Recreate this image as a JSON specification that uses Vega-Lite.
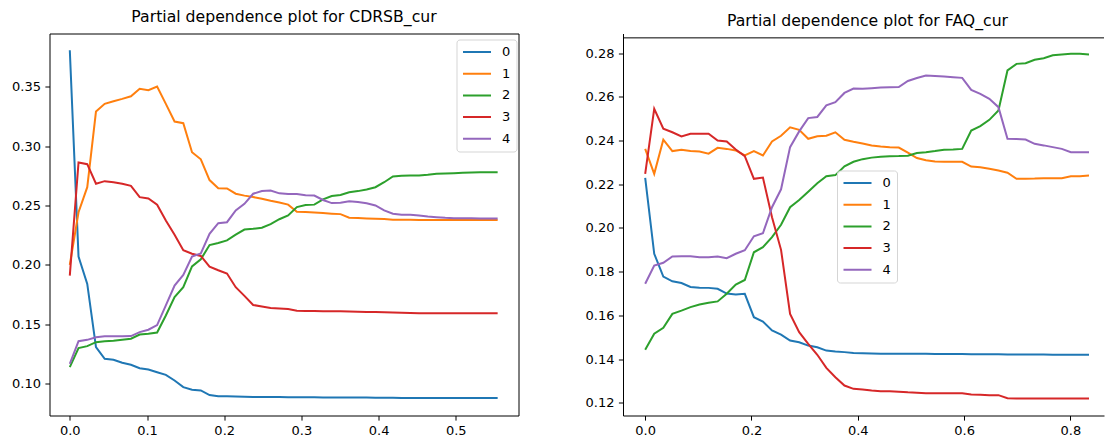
{
"$schema": "https://vega.github.io/schema/vega-lite/v6.json",
"background": "white",
"padding": {"left": 10.5, "top": 8.5, "right": 0, "bottom": 0},
"bounds": "flush",
"spacing": 104.5,
"config": {
 "font": "DejaVu Sans",
 "view": {"stroke": "#000", "strokeWidth": 1},
 "axis": {"domain": false, "grid": false, "tickSize": 4.6, "tickWidth": 1, "tickColor": "#000", "labelPadding": 4.4, "labelFontSize": 13, "labelColor": "#000", "labelFont": "DejaVu Sans", "title": null},
 "title": {"fontSize": 15.7, "font": "DejaVu Sans", "fontWeight": "normal", "color": "#000", "offset": 7.8, "baseline": "alphabetic", "anchor": "middle"},
 "legend": {"symbolType": "stroke", "symbolSize": 784, "symbolStrokeWidth": 2, "labelFontSize": 13, "labelFont": "DejaVu Sans", "labelColor": "#000", "labelOffset": 10, "clipHeight": 14, "rowPadding": 7.7, "padding": 5.5, "fillColor": "rgba(255,255,255,0.8)", "strokeColor": "#d5d5d5", "cornerRadius": 3, "title": null}
},
"datasets": {
"cdr": [
{"x":0,"k":"0","y":0.381},{"x":0.0113,"k":"0","y":0.207},{"x":0.0226,"k":"0","y":0.184},{"x":0.0339,"k":"0","y":0.1306},{"x":0.0452,"k":"0","y":0.1208},{"x":0.0566,"k":"0","y":0.12},{"x":0.0679,"k":"0","y":0.1175},{"x":0.0792,"k":"0","y":0.1158},{"x":0.0905,"k":"0","y":0.1129},{"x":0.1018,"k":"0","y":0.1118},{"x":0.1131,"k":"0","y":0.1095},{"x":0.1244,"k":"0","y":0.1073},{"x":0.1357,"k":"0","y":0.1025},{"x":0.147,"k":"0","y":0.0969},{"x":0.1583,"k":"0","y":0.0947},{"x":0.1697,"k":"0","y":0.0941},{"x":0.181,"k":"0","y":0.0902},{"x":0.1923,"k":"0","y":0.0893},{"x":0.2036,"k":"0","y":0.0892},{"x":0.2149,"k":"0","y":0.0891},{"x":0.2262,"k":"0","y":0.0889},{"x":0.2375,"k":"0","y":0.0887},{"x":0.2488,"k":"0","y":0.0886},{"x":0.2601,"k":"0","y":0.0885},{"x":0.2714,"k":"0","y":0.0885},{"x":0.2828,"k":"0","y":0.0884},{"x":0.2941,"k":"0","y":0.0884},{"x":0.3054,"k":"0","y":0.0883},{"x":0.3167,"k":"0","y":0.0883},{"x":0.328,"k":"0","y":0.0882},{"x":0.3393,"k":"0","y":0.0882},{"x":0.3506,"k":"0","y":0.0882},{"x":0.3619,"k":"0","y":0.0881},{"x":0.3732,"k":"0","y":0.0881},{"x":0.3845,"k":"0","y":0.0881},{"x":0.3959,"k":"0","y":0.088},{"x":0.4072,"k":"0","y":0.088},{"x":0.4185,"k":"0","y":0.0879},{"x":0.4298,"k":"0","y":0.0878},{"x":0.4411,"k":"0","y":0.0878},{"x":0.4524,"k":"0","y":0.0878},{"x":0.4637,"k":"0","y":0.0878},{"x":0.475,"k":"0","y":0.0878},{"x":0.4863,"k":"0","y":0.0878},{"x":0.4976,"k":"0","y":0.0877},{"x":0.509,"k":"0","y":0.0877},{"x":0.5203,"k":"0","y":0.0877},{"x":0.5316,"k":"0","y":0.0877},{"x":0.5429,"k":"0","y":0.0877},{"x":0.5542,"k":"0","y":0.0877},
{"x":0,"k":"1","y":0.2},{"x":0.0113,"k":"1","y":0.2444},{"x":0.0226,"k":"1","y":0.2655},{"x":0.0339,"k":"1","y":0.3293},{"x":0.0452,"k":"1","y":0.3358},{"x":0.0566,"k":"1","y":0.338},{"x":0.0679,"k":"1","y":0.34},{"x":0.0792,"k":"1","y":0.3422},{"x":0.0905,"k":"1","y":0.3485},{"x":0.1018,"k":"1","y":0.3473},{"x":0.1131,"k":"1","y":0.3504},{"x":0.1244,"k":"1","y":0.3358},{"x":0.1357,"k":"1","y":0.3209},{"x":0.147,"k":"1","y":0.3195},{"x":0.1583,"k":"1","y":0.295},{"x":0.1697,"k":"1","y":0.289},{"x":0.181,"k":"1","y":0.2715},{"x":0.1923,"k":"1","y":0.2647},{"x":0.2036,"k":"1","y":0.2644},{"x":0.2149,"k":"1","y":0.26},{"x":0.2262,"k":"1","y":0.2584},{"x":0.2375,"k":"1","y":0.2572},{"x":0.2488,"k":"1","y":0.2557},{"x":0.2601,"k":"1","y":0.254},{"x":0.2714,"k":"1","y":0.2526},{"x":0.2828,"k":"1","y":0.2508},{"x":0.2941,"k":"1","y":0.2447},{"x":0.3054,"k":"1","y":0.2446},{"x":0.3167,"k":"1","y":0.2442},{"x":0.328,"k":"1","y":0.2437},{"x":0.3393,"k":"1","y":0.2432},{"x":0.3506,"k":"1","y":0.2428},{"x":0.3619,"k":"1","y":0.2398},{"x":0.3732,"k":"1","y":0.2395},{"x":0.3845,"k":"1","y":0.2392},{"x":0.3959,"k":"1","y":0.2389},{"x":0.4072,"k":"1","y":0.2386},{"x":0.4185,"k":"1","y":0.2381},{"x":0.4298,"k":"1","y":0.238},{"x":0.4411,"k":"1","y":0.238},{"x":0.4524,"k":"1","y":0.2379},{"x":0.4637,"k":"1","y":0.2378},{"x":0.475,"k":"1","y":0.2378},{"x":0.4863,"k":"1","y":0.2378},{"x":0.4976,"k":"1","y":0.2378},{"x":0.509,"k":"1","y":0.2378},{"x":0.5203,"k":"1","y":0.2378},{"x":0.5316,"k":"1","y":0.2378},{"x":0.5429,"k":"1","y":0.2378},{"x":0.5542,"k":"1","y":0.2378},
{"x":0,"k":"2","y":0.1138},{"x":0.0113,"k":"2","y":0.1298},{"x":0.0226,"k":"2","y":0.1315},{"x":0.0339,"k":"2","y":0.1348},{"x":0.0452,"k":"2","y":0.1357},{"x":0.0566,"k":"2","y":0.136},{"x":0.0679,"k":"2","y":0.1368},{"x":0.0792,"k":"2","y":0.1377},{"x":0.0905,"k":"2","y":0.1413},{"x":0.1018,"k":"2","y":0.1419},{"x":0.1131,"k":"2","y":0.143},{"x":0.1244,"k":"2","y":0.1573},{"x":0.1357,"k":"2","y":0.1728},{"x":0.147,"k":"2","y":0.1812},{"x":0.1583,"k":"2","y":0.1987},{"x":0.1697,"k":"2","y":0.2047},{"x":0.181,"k":"2","y":0.2167},{"x":0.1923,"k":"2","y":0.2185},{"x":0.2036,"k":"2","y":0.2206},{"x":0.2149,"k":"2","y":0.2255},{"x":0.2262,"k":"2","y":0.2298},{"x":0.2375,"k":"2","y":0.2304},{"x":0.2488,"k":"2","y":0.2313},{"x":0.2601,"k":"2","y":0.2344},{"x":0.2714,"k":"2","y":0.2385},{"x":0.2828,"k":"2","y":0.2417},{"x":0.2941,"k":"2","y":0.2487},{"x":0.3054,"k":"2","y":0.2504},{"x":0.3167,"k":"2","y":0.2508},{"x":0.328,"k":"2","y":0.2553},{"x":0.3393,"k":"2","y":0.2581},{"x":0.3506,"k":"2","y":0.259},{"x":0.3619,"k":"2","y":0.2613},{"x":0.3732,"k":"2","y":0.2622},{"x":0.3845,"k":"2","y":0.2636},{"x":0.3959,"k":"2","y":0.2655},{"x":0.4072,"k":"2","y":0.2697},{"x":0.4185,"k":"2","y":0.2745},{"x":0.4298,"k":"2","y":0.2751},{"x":0.4411,"k":"2","y":0.2754},{"x":0.4524,"k":"2","y":0.2754},{"x":0.4637,"k":"2","y":0.2759},{"x":0.475,"k":"2","y":0.2768},{"x":0.4863,"k":"2","y":0.2771},{"x":0.4976,"k":"2","y":0.2773},{"x":0.509,"k":"2","y":0.2776},{"x":0.5203,"k":"2","y":0.2779},{"x":0.5316,"k":"2","y":0.2781},{"x":0.5429,"k":"2","y":0.2782},{"x":0.5542,"k":"2","y":0.2782},
{"x":0,"k":"3","y":0.191},{"x":0.0113,"k":"3","y":0.2863},{"x":0.0226,"k":"3","y":0.2849},{"x":0.0339,"k":"3","y":0.2684},{"x":0.0452,"k":"3","y":0.2706},{"x":0.0566,"k":"3","y":0.2697},{"x":0.0679,"k":"3","y":0.2684},{"x":0.0792,"k":"3","y":0.2667},{"x":0.0905,"k":"3","y":0.2571},{"x":0.1018,"k":"3","y":0.256},{"x":0.1131,"k":"3","y":0.2507},{"x":0.1244,"k":"3","y":0.2374},{"x":0.1357,"k":"3","y":0.2255},{"x":0.147,"k":"3","y":0.2124},{"x":0.1583,"k":"3","y":0.2094},{"x":0.1697,"k":"3","y":0.2075},{"x":0.181,"k":"3","y":0.1985},{"x":0.1923,"k":"3","y":0.1955},{"x":0.2036,"k":"3","y":0.1927},{"x":0.2149,"k":"3","y":0.1812},{"x":0.2262,"k":"3","y":0.1739},{"x":0.2375,"k":"3","y":0.1662},{"x":0.2488,"k":"3","y":0.1649},{"x":0.2601,"k":"3","y":0.1637},{"x":0.2714,"k":"3","y":0.1632},{"x":0.2828,"k":"3","y":0.1627},{"x":0.2941,"k":"3","y":0.1614},{"x":0.3054,"k":"3","y":0.1612},{"x":0.3167,"k":"3","y":0.1611},{"x":0.328,"k":"3","y":0.161},{"x":0.3393,"k":"3","y":0.1609},{"x":0.3506,"k":"3","y":0.1608},{"x":0.3619,"k":"3","y":0.1607},{"x":0.3732,"k":"3","y":0.1605},{"x":0.3845,"k":"3","y":0.1603},{"x":0.3959,"k":"3","y":0.1602},{"x":0.4072,"k":"3","y":0.1601},{"x":0.4185,"k":"3","y":0.1598},{"x":0.4298,"k":"3","y":0.1596},{"x":0.4411,"k":"3","y":0.1595},{"x":0.4524,"k":"3","y":0.1593},{"x":0.4637,"k":"3","y":0.1593},{"x":0.475,"k":"3","y":0.1593},{"x":0.4863,"k":"3","y":0.1593},{"x":0.4976,"k":"3","y":0.1593},{"x":0.509,"k":"3","y":0.1593},{"x":0.5203,"k":"3","y":0.1593},{"x":0.5316,"k":"3","y":0.1593},{"x":0.5429,"k":"3","y":0.1593},{"x":0.5542,"k":"3","y":0.1593},
{"x":0,"k":"4","y":0.1166},{"x":0.0113,"k":"4","y":0.1357},{"x":0.0226,"k":"4","y":0.1368},{"x":0.0339,"k":"4","y":0.139},{"x":0.0452,"k":"4","y":0.1399},{"x":0.0566,"k":"4","y":0.1399},{"x":0.0679,"k":"4","y":0.1399},{"x":0.0792,"k":"4","y":0.14},{"x":0.0905,"k":"4","y":0.1433},{"x":0.1018,"k":"4","y":0.1453},{"x":0.1131,"k":"4","y":0.1492},{"x":0.1244,"k":"4","y":0.1658},{"x":0.1357,"k":"4","y":0.1826},{"x":0.147,"k":"4","y":0.1916},{"x":0.1583,"k":"4","y":0.2071},{"x":0.1697,"k":"4","y":0.2097},{"x":0.181,"k":"4","y":0.2262},{"x":0.1923,"k":"4","y":0.2352},{"x":0.2036,"k":"4","y":0.236},{"x":0.2149,"k":"4","y":0.2459},{"x":0.2262,"k":"4","y":0.2515},{"x":0.2375,"k":"4","y":0.26},{"x":0.2488,"k":"4","y":0.2622},{"x":0.2601,"k":"4","y":0.2627},{"x":0.2714,"k":"4","y":0.2603},{"x":0.2828,"k":"4","y":0.2597},{"x":0.2941,"k":"4","y":0.2597},{"x":0.3054,"k":"4","y":0.2588},{"x":0.3167,"k":"4","y":0.2585},{"x":0.328,"k":"4","y":0.2547},{"x":0.3393,"k":"4","y":0.2521},{"x":0.3506,"k":"4","y":0.2524},{"x":0.3619,"k":"4","y":0.2537},{"x":0.3732,"k":"4","y":0.253},{"x":0.3845,"k":"4","y":0.252},{"x":0.3959,"k":"4","y":0.2501},{"x":0.4072,"k":"4","y":0.2459},{"x":0.4185,"k":"4","y":0.2431},{"x":0.4298,"k":"4","y":0.2422},{"x":0.4411,"k":"4","y":0.2422},{"x":0.4524,"k":"4","y":0.2417},{"x":0.4637,"k":"4","y":0.2408},{"x":0.475,"k":"4","y":0.2402},{"x":0.4863,"k":"4","y":0.2397},{"x":0.4976,"k":"4","y":0.2394},{"x":0.509,"k":"4","y":0.2393},{"x":0.5203,"k":"4","y":0.2393},{"x":0.5316,"k":"4","y":0.2392},{"x":0.5429,"k":"4","y":0.2392},{"x":0.5542,"k":"4","y":0.2392}
],
"faq": [
{"x":0,"k":"0","y":0.2229},{"x":0.017,"k":"0","y":0.1882},{"x":0.0341,"k":"0","y":0.1778},{"x":0.0511,"k":"0","y":0.1756},{"x":0.0682,"k":"0","y":0.1748},{"x":0.0852,"k":"0","y":0.173},{"x":0.1022,"k":"0","y":0.1727},{"x":0.1193,"k":"0","y":0.1726},{"x":0.1363,"k":"0","y":0.1722},{"x":0.1534,"k":"0","y":0.17},{"x":0.1704,"k":"0","y":0.1696},{"x":0.1874,"k":"0","y":0.1699},{"x":0.2045,"k":"0","y":0.1592},{"x":0.2215,"k":"0","y":0.1572},{"x":0.2386,"k":"0","y":0.1531},{"x":0.2556,"k":"0","y":0.1512},{"x":0.2726,"k":"0","y":0.1485},{"x":0.2897,"k":"0","y":0.1477},{"x":0.3067,"k":"0","y":0.1462},{"x":0.3238,"k":"0","y":0.1454},{"x":0.3408,"k":"0","y":0.1439},{"x":0.3578,"k":"0","y":0.1435},{"x":0.3749,"k":"0","y":0.1432},{"x":0.3919,"k":"0","y":0.1428},{"x":0.409,"k":"0","y":0.1427},{"x":0.426,"k":"0","y":0.1426},{"x":0.443,"k":"0","y":0.1425},{"x":0.4601,"k":"0","y":0.1425},{"x":0.4771,"k":"0","y":0.1425},{"x":0.4942,"k":"0","y":0.1424},{"x":0.5112,"k":"0","y":0.1424},{"x":0.5282,"k":"0","y":0.1424},{"x":0.5453,"k":"0","y":0.1423},{"x":0.5623,"k":"0","y":0.1423},{"x":0.5794,"k":"0","y":0.1423},{"x":0.5964,"k":"0","y":0.1423},{"x":0.6134,"k":"0","y":0.1422},{"x":0.6305,"k":"0","y":0.1422},{"x":0.6475,"k":"0","y":0.1422},{"x":0.6646,"k":"0","y":0.1422},{"x":0.6816,"k":"0","y":0.1421},{"x":0.6986,"k":"0","y":0.1421},{"x":0.7157,"k":"0","y":0.1421},{"x":0.7327,"k":"0","y":0.1421},{"x":0.7498,"k":"0","y":0.1421},{"x":0.7668,"k":"0","y":0.142},{"x":0.7838,"k":"0","y":0.142},{"x":0.8009,"k":"0","y":0.142},{"x":0.8179,"k":"0","y":0.142},{"x":0.835,"k":"0","y":0.142},
{"x":0,"k":"1","y":0.2362},{"x":0.017,"k":"1","y":0.2248},{"x":0.0341,"k":"1","y":0.2404},{"x":0.0511,"k":"1","y":0.2352},{"x":0.0682,"k":"1","y":0.2358},{"x":0.0852,"k":"1","y":0.2352},{"x":0.1022,"k":"1","y":0.235},{"x":0.1193,"k":"1","y":0.234},{"x":0.1363,"k":"1","y":0.2367},{"x":0.1534,"k":"1","y":0.2362},{"x":0.1704,"k":"1","y":0.2355},{"x":0.1874,"k":"1","y":0.2332},{"x":0.2045,"k":"1","y":0.2352},{"x":0.2215,"k":"1","y":0.2332},{"x":0.2386,"k":"1","y":0.2396},{"x":0.2556,"k":"1","y":0.2422},{"x":0.2726,"k":"1","y":0.2461},{"x":0.2897,"k":"1","y":0.2449},{"x":0.3067,"k":"1","y":0.2408},{"x":0.3238,"k":"1","y":0.242},{"x":0.3408,"k":"1","y":0.2422},{"x":0.3578,"k":"1","y":0.2438},{"x":0.3749,"k":"1","y":0.2404},{"x":0.3919,"k":"1","y":0.2395},{"x":0.409,"k":"1","y":0.2387},{"x":0.426,"k":"1","y":0.2378},{"x":0.443,"k":"1","y":0.2373},{"x":0.4601,"k":"1","y":0.2369},{"x":0.4771,"k":"1","y":0.2368},{"x":0.4942,"k":"1","y":0.2345},{"x":0.5112,"k":"1","y":0.232},{"x":0.5282,"k":"1","y":0.231},{"x":0.5453,"k":"1","y":0.2304},{"x":0.5623,"k":"1","y":0.2303},{"x":0.5794,"k":"1","y":0.2303},{"x":0.5964,"k":"1","y":0.2303},{"x":0.6134,"k":"1","y":0.2281},{"x":0.6305,"k":"1","y":0.2278},{"x":0.6475,"k":"1","y":0.2271},{"x":0.6646,"k":"1","y":0.2263},{"x":0.6816,"k":"1","y":0.2253},{"x":0.6986,"k":"1","y":0.2225},{"x":0.7157,"k":"1","y":0.2225},{"x":0.7327,"k":"1","y":0.2226},{"x":0.7498,"k":"1","y":0.2228},{"x":0.7668,"k":"1","y":0.2228},{"x":0.7838,"k":"1","y":0.2228},{"x":0.8009,"k":"1","y":0.2237},{"x":0.8179,"k":"1","y":0.2237},{"x":0.835,"k":"1","y":0.224},
{"x":0,"k":"2","y":0.1443},{"x":0.017,"k":"2","y":0.1516},{"x":0.0341,"k":"2","y":0.1543},{"x":0.0511,"k":"2","y":0.1607},{"x":0.0682,"k":"2","y":0.1622},{"x":0.0852,"k":"2","y":0.1638},{"x":0.1022,"k":"2","y":0.165},{"x":0.1193,"k":"2","y":0.1658},{"x":0.1363,"k":"2","y":0.1664},{"x":0.1534,"k":"2","y":0.1699},{"x":0.1704,"k":"2","y":0.1741},{"x":0.1874,"k":"2","y":0.1762},{"x":0.2045,"k":"2","y":0.1889},{"x":0.2215,"k":"2","y":0.1912},{"x":0.2386,"k":"2","y":0.1958},{"x":0.2556,"k":"2","y":0.2015},{"x":0.2726,"k":"2","y":0.2095},{"x":0.2897,"k":"2","y":0.2128},{"x":0.3067,"k":"2","y":0.2166},{"x":0.3238,"k":"2","y":0.2205},{"x":0.3408,"k":"2","y":0.2237},{"x":0.3578,"k":"2","y":0.2242},{"x":0.3749,"k":"2","y":0.2282},{"x":0.3919,"k":"2","y":0.2303},{"x":0.409,"k":"2","y":0.2315},{"x":0.426,"k":"2","y":0.2322},{"x":0.443,"k":"2","y":0.2326},{"x":0.4601,"k":"2","y":0.2328},{"x":0.4771,"k":"2","y":0.2329},{"x":0.4942,"k":"2","y":0.2331},{"x":0.5112,"k":"2","y":0.2343},{"x":0.5282,"k":"2","y":0.2347},{"x":0.5453,"k":"2","y":0.2352},{"x":0.5623,"k":"2","y":0.2358},{"x":0.5794,"k":"2","y":0.2359},{"x":0.5964,"k":"2","y":0.2362},{"x":0.6134,"k":"2","y":0.2446},{"x":0.6305,"k":"2","y":0.2466},{"x":0.6475,"k":"2","y":0.2495},{"x":0.6646,"k":"2","y":0.2538},{"x":0.6816,"k":"2","y":0.2721},{"x":0.6986,"k":"2","y":0.2751},{"x":0.7157,"k":"2","y":0.2754},{"x":0.7327,"k":"2","y":0.277},{"x":0.7498,"k":"2","y":0.2777},{"x":0.7668,"k":"2","y":0.279},{"x":0.7838,"k":"2","y":0.2794},{"x":0.8009,"k":"2","y":0.2797},{"x":0.8179,"k":"2","y":0.2797},{"x":0.835,"k":"2","y":0.2794},
{"x":0,"k":"3","y":0.2248},{"x":0.017,"k":"3","y":0.2545},{"x":0.0341,"k":"3","y":0.2454},{"x":0.0511,"k":"3","y":0.2438},{"x":0.0682,"k":"3","y":0.2419},{"x":0.0852,"k":"3","y":0.2431},{"x":0.1022,"k":"3","y":0.2431},{"x":0.1193,"k":"3","y":0.2431},{"x":0.1363,"k":"3","y":0.24},{"x":0.1534,"k":"3","y":0.2396},{"x":0.1704,"k":"3","y":0.2359},{"x":0.1874,"k":"3","y":0.2329},{"x":0.2045,"k":"3","y":0.2225},{"x":0.2215,"k":"3","y":0.2231},{"x":0.2386,"k":"3","y":0.2049},{"x":0.2556,"k":"3","y":0.19},{"x":0.2726,"k":"3","y":0.1607},{"x":0.2897,"k":"3","y":0.1523},{"x":0.3067,"k":"3","y":0.147},{"x":0.3238,"k":"3","y":0.142},{"x":0.3408,"k":"3","y":0.136},{"x":0.3578,"k":"3","y":0.1317},{"x":0.3749,"k":"3","y":0.1279},{"x":0.3919,"k":"3","y":0.1264},{"x":0.409,"k":"3","y":0.1261},{"x":0.426,"k":"3","y":0.1256},{"x":0.443,"k":"3","y":0.1253},{"x":0.4601,"k":"3","y":0.1253},{"x":0.4771,"k":"3","y":0.1251},{"x":0.4942,"k":"3","y":0.1248},{"x":0.5112,"k":"3","y":0.1246},{"x":0.5282,"k":"3","y":0.1244},{"x":0.5453,"k":"3","y":0.1244},{"x":0.5623,"k":"3","y":0.1244},{"x":0.5794,"k":"3","y":0.1244},{"x":0.5964,"k":"3","y":0.1244},{"x":0.6134,"k":"3","y":0.1238},{"x":0.6305,"k":"3","y":0.1237},{"x":0.6475,"k":"3","y":0.1235},{"x":0.6646,"k":"3","y":0.1235},{"x":0.6816,"k":"3","y":0.1221},{"x":0.6986,"k":"3","y":0.122},{"x":0.7157,"k":"3","y":0.122},{"x":0.7327,"k":"3","y":0.122},{"x":0.7498,"k":"3","y":0.122},{"x":0.7668,"k":"3","y":0.122},{"x":0.7838,"k":"3","y":0.122},{"x":0.8009,"k":"3","y":0.122},{"x":0.8179,"k":"3","y":0.122},{"x":0.835,"k":"3","y":0.122},
{"x":0,"k":"4","y":0.1745},{"x":0.017,"k":"4","y":0.1828},{"x":0.0341,"k":"4","y":0.1841},{"x":0.0511,"k":"4","y":0.187},{"x":0.0682,"k":"4","y":0.1871},{"x":0.0852,"k":"4","y":0.1871},{"x":0.1022,"k":"4","y":0.1866},{"x":0.1193,"k":"4","y":0.1866},{"x":0.1363,"k":"4","y":0.187},{"x":0.1534,"k":"4","y":0.1862},{"x":0.1704,"k":"4","y":0.1882},{"x":0.1874,"k":"4","y":0.1898},{"x":0.2045,"k":"4","y":0.1962},{"x":0.2215,"k":"4","y":0.1976},{"x":0.2386,"k":"4","y":0.2095},{"x":0.2556,"k":"4","y":0.2177},{"x":0.2726,"k":"4","y":0.237},{"x":0.2897,"k":"4","y":0.2442},{"x":0.3067,"k":"4","y":0.2503},{"x":0.3238,"k":"4","y":0.2508},{"x":0.3408,"k":"4","y":0.2561},{"x":0.3578,"k":"4","y":0.2576},{"x":0.3749,"k":"4","y":0.2618},{"x":0.3919,"k":"4","y":0.2638},{"x":0.409,"k":"4","y":0.2637},{"x":0.426,"k":"4","y":0.264},{"x":0.443,"k":"4","y":0.2643},{"x":0.4601,"k":"4","y":0.2644},{"x":0.4771,"k":"4","y":0.2645},{"x":0.4942,"k":"4","y":0.2673},{"x":0.5112,"k":"4","y":0.2686},{"x":0.5282,"k":"4","y":0.2698},{"x":0.5453,"k":"4","y":0.2696},{"x":0.5623,"k":"4","y":0.2693},{"x":0.5794,"k":"4","y":0.269},{"x":0.5964,"k":"4","y":0.2687},{"x":0.6134,"k":"4","y":0.2632},{"x":0.6305,"k":"4","y":0.2614},{"x":0.6475,"k":"4","y":0.2591},{"x":0.6646,"k":"4","y":0.2553},{"x":0.6816,"k":"4","y":0.2408},{"x":0.6986,"k":"4","y":0.2407},{"x":0.7157,"k":"4","y":0.2405},{"x":0.7327,"k":"4","y":0.2385},{"x":0.7498,"k":"4","y":0.2378},{"x":0.7668,"k":"4","y":0.237},{"x":0.7838,"k":"4","y":0.2362},{"x":0.8009,"k":"4","y":0.2347},{"x":0.8179,"k":"4","y":0.2347},{"x":0.835,"k":"4","y":0.2347}
]
},
"resolve": {"legend": {"color": "independent"}},
"hconcat": [
 {
  "width": 469, "height": 382,
  "title": "Partial dependence plot for CDRSB_cur",
  "data": {"name": "cdr"},
  "mark": {"type": "line", "strokeWidth": 2},
  "encoding": {
   "x": {"field": "x", "type": "quantitative", "scale": {"domain": [-0.0263, 0.5812], "nice": false, "zero": false}, "axis": {"values": [0, 0.1, 0.2, 0.3, 0.4, 0.5], "format": ".1f"}},
   "y": {"field": "y", "type": "quantitative", "scale": {"domain": [0.073, 0.3951], "nice": false, "zero": false}, "axis": {"values": [0.1, 0.15, 0.2, 0.25, 0.3, 0.35], "format": ".2f"}},
   "color": {"field": "k", "type": "nominal", "scale": {"domain": ["0", "1", "2", "3", "4"], "range": ["#1f77b4", "#ff7f0e", "#2ca02c", "#d62728", "#9467bd"]}, "legend": {"orient": "none", "legendX": 407, "legendY": 6}}
  }
 },
 {
  "width": 481, "height": 382,
  "title": {"text": "Partial dependence plot for FAQ_cur", "dy": 4, "dx": 4},
  "view": {"stroke": null},
  "layer": [
   {
    "data": {"name": "faq"},
    "mark": {"type": "line", "strokeWidth": 2},
    "encoding": {
     "x": {"field": "x", "type": "quantitative", "scale": {"domain": [-0.04175, 0.8632], "nice": false, "zero": false}, "axis": {"values": [0, 0.2, 0.4, 0.6, 0.8], "format": ".1f", "domain": true, "domainColor": "#000", "domainWidth": 1}},
     "y": {"field": "y", "type": "quantitative", "scale": {"domain": [0.1142, 0.289], "nice": false, "zero": false}, "axis": {"values": [0.12, 0.14, 0.16, 0.18, 0.2, 0.22, 0.24, 0.26, 0.28], "format": ".2f", "domain": true, "domainColor": "#000", "domainWidth": 1}},
     "color": {"field": "k", "type": "nominal", "scale": {"domain": ["0", "1", "2", "3", "4"], "range": ["#1f77b4", "#ff7f0e", "#2ca02c", "#d62728", "#9467bd"]}, "legend": {"orient": "none", "legendX": 214, "legendY": 137}}
    }
   },
   {
    "data": {"values": [{}]},
    "mark": {"type": "rule", "color": "#000", "strokeWidth": 1},
    "encoding": {"y": {"datum": 0.287}}
   }
  ]
 }
]
}
